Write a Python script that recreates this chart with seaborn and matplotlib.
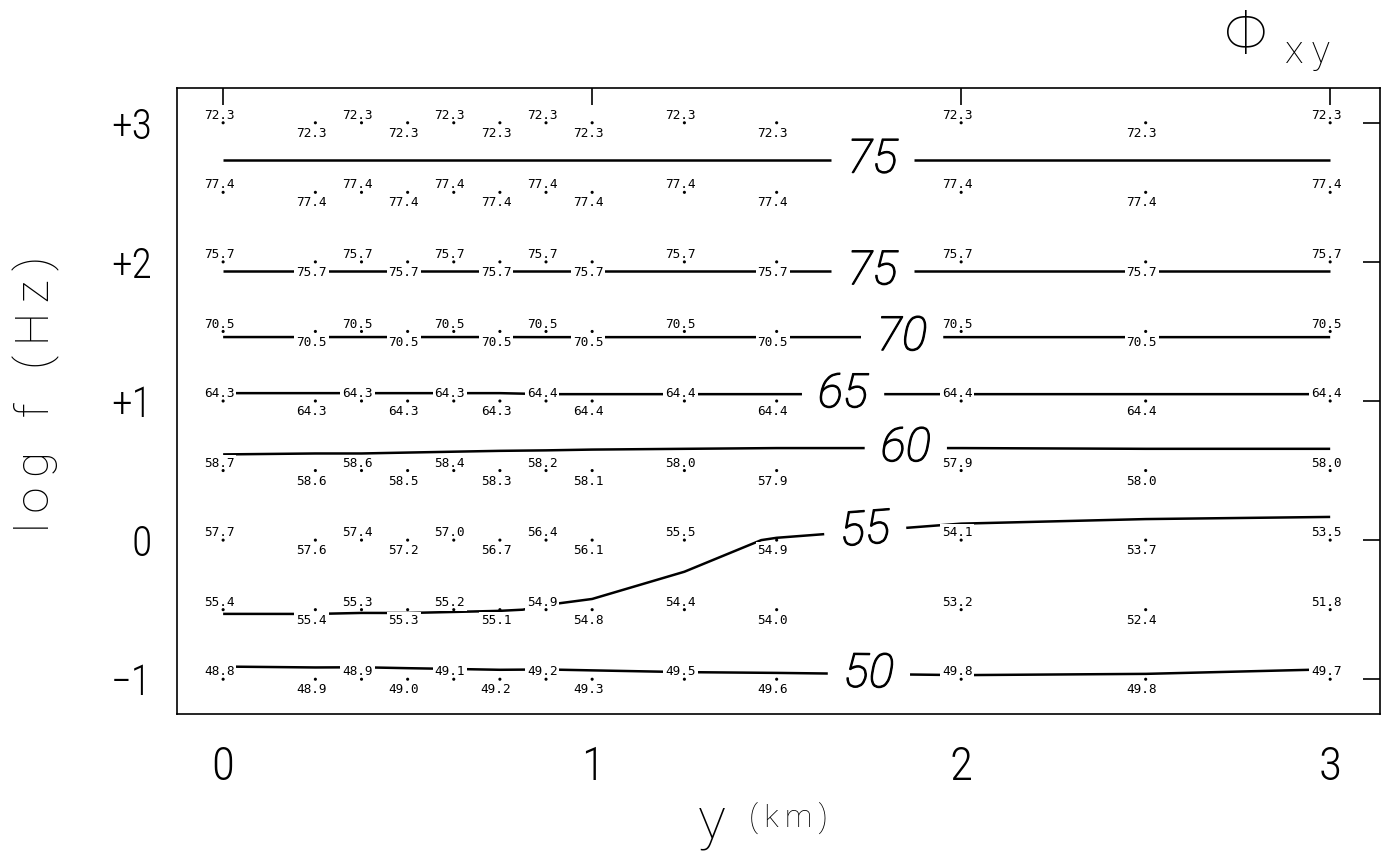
import numpy as np
import pandas as pd
import matplotlib
matplotlib.use("Agg")
import matplotlib.pyplot as plt
import matplotlib.patheffects as pe
import seaborn as sns

# ---------------- data ----------------
# station positions along the profile, y (km)
y_km = [0.0, 0.25, 0.375, 0.5, 0.625, 0.75, 0.875, 1.0, 1.25, 1.5, 2.0, 2.5, 3.0]
# frequency levels, log f (Hz)
log_f = [3.0, 2.5, 2.0, 1.5, 1.0, 0.5, 0.0, -0.5, -1.0]

# phase Phi_xy (degrees) at each station, one list per frequency
phi_logf_p30 = [72.3, 72.3, 72.3, 72.3, 72.3, 72.3, 72.3, 72.3, 72.3, 72.3, 72.3, 72.3, 72.3]
phi_logf_p25 = [77.4, 77.4, 77.4, 77.4, 77.4, 77.4, 77.4, 77.4, 77.4, 77.4, 77.4, 77.4, 77.4]
phi_logf_p20 = [75.7, 75.7, 75.7, 75.7, 75.7, 75.7, 75.7, 75.7, 75.7, 75.7, 75.7, 75.7, 75.7]
phi_logf_p15 = [70.5, 70.5, 70.5, 70.5, 70.5, 70.5, 70.5, 70.5, 70.5, 70.5, 70.5, 70.5, 70.5]
phi_logf_p10 = [64.3, 64.3, 64.3, 64.3, 64.3, 64.3, 64.4, 64.4, 64.4, 64.4, 64.4, 64.4, 64.4]
phi_logf_p05 = [58.7, 58.6, 58.6, 58.5, 58.4, 58.3, 58.2, 58.1, 58.0, 57.9, 57.9, 58.0, 58.0]
phi_logf_00 = [57.7, 57.6, 57.4, 57.2, 57.0, 56.7, 56.4, 56.1, 55.5, 54.9, 54.1, 53.7, 53.5]
phi_logf_m05 = [55.4, 55.4, 55.3, 55.3, 55.2, 55.1, 54.9, 54.8, 54.4, 54.0, 53.2, 52.4, 51.8]
phi_logf_m10 = [48.8, 48.9, 48.9, 49.0, 49.1, 49.2, 49.2, 49.3, 49.5, 49.6, 49.8, 49.8, 49.7]

contour_levels = [50, 55, 60, 65, 70, 75]

x_ticks = [0, 1, 2, 3]
x_tick_labels = ["0", "1", "2", "3"]
y_ticks = [-1, 0, 1, 2, 3]
y_tick_labels = ["\u22121", "0", "+1", "+2", "+3"]

# ---------------- assemble ----------------
Z = np.array([phi_logf_p30, phi_logf_p25, phi_logf_p20, phi_logf_p15, phi_logf_p10,
              phi_logf_p05, phi_logf_00, phi_logf_m05, phi_logf_m10])

rows = []
for fi, lf in enumerate(log_f):
    for si, yk in enumerate(y_km):
        rows.append({"y_km": yk, "log_f": lf, "phi": Z[fi, si],
                     "side": "above" if si % 2 == 0 else "below"})
df = pd.DataFrame(rows)

# ---------------- style ----------------
sns.set_theme(style="white")
plt.rcParams["font.family"] = ["Roboto Condensed", "Roboto", "DejaVu Sans"]
plt.rcParams["font.weight"] = "light"
plt.rcParams["axes.edgecolor"] = "black"
plt.rcParams["axes.linewidth"] = 1.2

W, H = 1396, 852
fig = plt.figure(figsize=(W / 100, H / 100), dpi=100)
fig.patch.set_facecolor("white")
ax = fig.add_axes([177 / W, 1 - 714 / H, (1380 - 177) / W, (714 - 88) / H])
ax.set_xlim(-0.125, 3.135)
ax.set_ylim(-1.25, 3.25)

# station dots
sns.scatterplot(data=df, x="y_km", y="log_f", s=5, color="black", edgecolor="none",
                legend=False, ax=ax, zorder=6)

# phase values written next to each station dot
for _, r in df.iterrows():
    above = r["side"] == "above"
    ax.annotate(f"{r['phi']:.1f}", (r["y_km"], r["log_f"]),
                xytext=(-2.8, 2.8 if above else -3.0), textcoords="offset points",
                ha="center", va="baseline" if above else "top",
                fontsize=9.2, family="DejaVu Sans Mono", fontweight="normal",
                color="black", zorder=5,
                bbox=dict(boxstyle="square,pad=0.15", fc="white", ec="none"))

# contour lines
X, Y = np.meshgrid(y_km, log_f)
cs = ax.contour(X, Y, Z, levels=contour_levels, colors="black", linewidths=1.8, zorder=3)

label_x = {75: 1.76, 70: 1.84, 65: 1.68, 60: 1.85, 55: 1.74, 50: 1.75}
manual = []
for lev, segs in zip(cs.levels, cs.allsegs):
    for seg in segs:
        xs, ys = seg[:, 0], seg[:, 1]
        lx = label_x[int(round(lev))]
        if len(xs) > 1 and xs.min() <= lx <= xs.max():
            o = np.argsort(xs)
            manual.append((lx, float(np.interp(lx, xs[o], ys[o]))))

with plt.rc_context({"font.family": ["Roboto", "DejaVu Sans"], "font.style": "italic",
                     "font.weight": "light"}):
    clabels = ax.clabel(cs, manual=manual, inline=True, inline_spacing=16, fmt="%d",
                        fontsize=34, colors="black")
for t in clabels:
    t.set_path_effects([pe.withStroke(linewidth=0.9, foreground="black")])

# axes, ticks
ax.set_xticks(x_ticks)
ax.set_xticklabels(x_tick_labels)
ax.set_yticks(y_ticks)
ax.set_yticklabels(y_tick_labels)
ax.tick_params(axis="both", which="major", direction="in", length=12, width=1.2,
               top=True, right=True, colors="black")
ax.tick_params(axis="x", pad=22, labelsize=34)
ax.tick_params(axis="y", pad=18, labelsize=30)
for s in ax.spines.values():
    s.set_visible(True)
    s.set_color("black")
    s.set_linewidth(1.2)
ax.grid(False)
ax.set_xlabel("")
ax.set_ylabel("")

# axis titles
thin = "\u2009"
fig.text(36 / W, 1 - 394 / H, "l" + thin + "o" + thin + "g   f   (" + thin + "H" + thin + "z" + thin + ")",
         rotation=90, ha="center", va="center", fontsize=34, color="black",
         family=["Roboto", "DejaVu Sans"], fontweight="light")
fig.text(712 / W, 1 - 822 / H, "y", ha="center", va="center", fontsize=42, color="black",
         family=["Roboto", "DejaVu Sans"], fontweight="light")
fig.text(788 / W, 1 - 818 / H, "(" + thin + "k" + thin + "m" + thin + ")", ha="center", va="center",
         fontsize=22, color="black", family=["Roboto", "DejaVu Sans"], fontweight="light")

# panel title  Phi_xy
fig.text(1246 / W, 1 - 37 / H, "\u03a6", ha="center", va="center", fontsize=44, color="black",
         family=["Roboto", "DejaVu Sans"], fontweight="light")
fig.text(1308 / W, 1 - 52 / H, "x" + thin + "y", ha="center", va="center", fontsize=28,
         color="black", family=["Roboto", "DejaVu Sans"], fontweight="light")

fig.savefig("out.png", dpi=100, facecolor="white")
